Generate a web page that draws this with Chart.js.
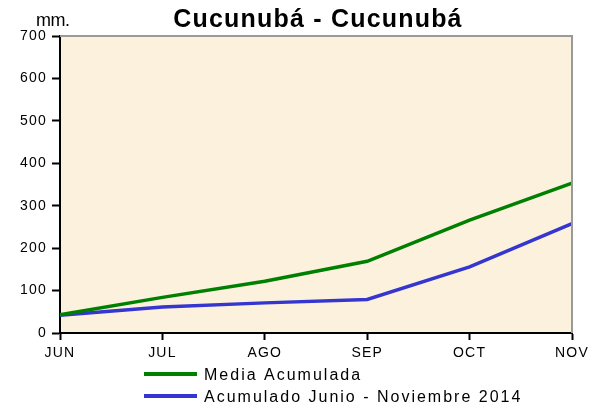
<!DOCTYPE html>
<html>
<head>
<meta charset="utf-8">
<script src="https://cdn.jsdelivr.net/npm/chart.js@4.4.1/dist/chart.umd.min.js"></script>
<style>
  body { margin: 0; background: #fff; }
  canvas { display: block; }
</style>
</head>
<body>
<canvas id="lluviaChart" width="605" height="410"></canvas>
<script>
    const meses = ['JUN', 'JUL', 'AGO', 'SEP', 'OCT', 'NOV'];
    const mediaAcumulada = [43, 84, 122, 169, 266, 353];
    const acumulado2014 = [42, 61, 71, 79, 156, 258];
    const yTicks = [0, 100, 200, 300, 400, 500, 600, 700];

    const fuente = "'Liberation Sans', Arial, sans-serif";

    // fondo, titulo, leyenda y bordes
    const decorado = {
        id: 'decorado',
        beforeDraw(chart) {
            const { ctx, chartArea: a } = chart;
            ctx.save();
            ctx.fillStyle = '#fcf1dd';
            ctx.fillRect(a.left, a.top, a.right - a.left, a.bottom - a.top);
            ctx.restore();
            ctx.letterSpacing = '1.2px';
        },
        afterDraw(chart) {
            const { ctx, chartArea: a } = chart;
            ctx.save();
            ctx.strokeStyle = '#999';
            ctx.lineWidth = 2;
            ctx.beginPath();
            ctx.moveTo(a.left, a.top);
            ctx.lineTo(a.right, a.top);
            ctx.lineTo(a.right, a.bottom);
            ctx.stroke();

            ctx.fillStyle = '#000';
            ctx.textBaseline = 'alphabetic';
            ctx.letterSpacing = '1.2px';
            ctx.font = 'bold 25px ' + fuente;
            ctx.textAlign = 'center';
            ctx.fillText('Cucunubá - Cucunubá', 318, 27);

            ctx.letterSpacing = '-0.5px';
            ctx.font = '18px ' + fuente;
            ctx.textAlign = 'left';
            ctx.fillText('mm.', 36, 26);

            ctx.letterSpacing = '2px';
            ctx.font = '16px ' + fuente;
            chart.data.datasets.forEach((ds, i) => {
                const y = 374 + i * 22;
                ctx.strokeStyle = ds.borderColor;
                ctx.lineWidth = 4;
                ctx.beginPath();
                ctx.moveTo(144, y);
                ctx.lineTo(197, y);
                ctx.stroke();
                ctx.fillText(ds.label, 204, y + 6);
            });
            ctx.restore();
        }
    };

    const ctx = document.getElementById('lluviaChart').getContext('2d');
    new Chart(ctx, {
        type: 'line',
        data: {
            labels: meses,
            datasets: [{
                label: 'Media Acumulada',
                data: mediaAcumulada,
                borderColor: '#008000',
                borderWidth: 3.5,
                pointRadius: 0,
                tension: 0
            }, {
                label: 'Acumulado Junio - Noviembre 2014',
                data: acumulado2014,
                borderColor: '#3535cf',
                borderWidth: 3.5,
                pointRadius: 0,
                tension: 0
            }]
        },
        options: {
            responsive: false,
            animation: false,
            devicePixelRatio: 1,
            layout: { padding: { top: 36, right: 33, left: 0, bottom: 0 } },
            plugins: {
                legend: { display: false },
                title: { display: false },
                tooltip: { enabled: false }
            },
            scales: {
                x: {
                    offset: false,
                    afterFit: s => { s.height = 77; },
                    grid: { drawOnChartArea: false, tickLength: 7, tickColor: '#000', tickWidth: 2 },
                    border: { color: '#000', width: 2 },
                    ticks: { color: '#000', padding: 5, maxRotation: 0, font: { family: fuente, size: 14 } }
                },
                y: {
                    min: 0,
                    max: 700,
                    afterFit: s => { s.width = 60; },
                    afterBuildTicks: s => { s.ticks = yTicks.map(v => ({ value: v })); },
                    grid: { drawOnChartArea: false, tickLength: 8, tickColor: '#000', tickWidth: 2 },
                    border: { color: '#000', width: 2 },
                    ticks: { color: '#000', padding: 5, font: { family: fuente, size: 14 } }
                }
            }
        },
        plugins: [decorado]
    });
</script>
</body>
</html>
